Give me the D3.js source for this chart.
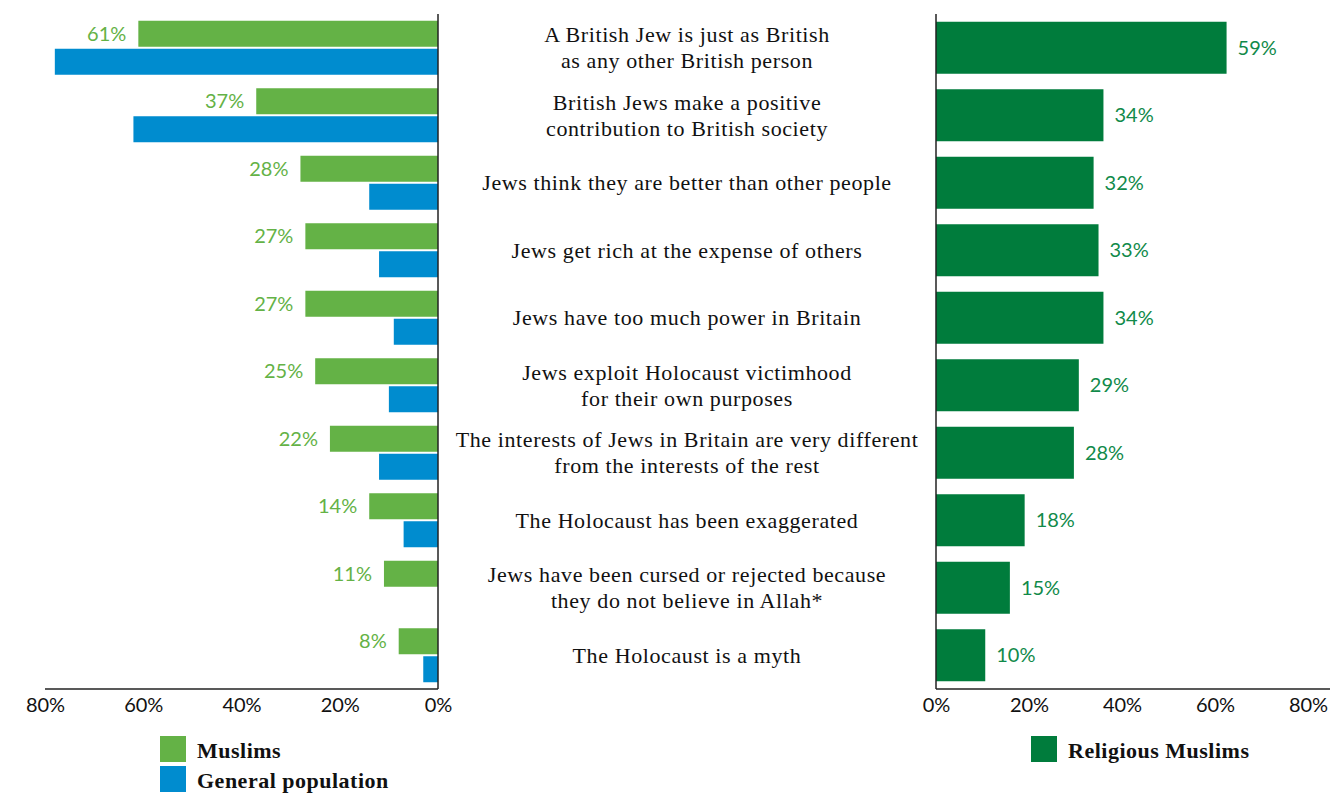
<!DOCTYPE html>
<html>
<head>
<meta charset="utf-8">
<script src="https://cdn.jsdelivr.net/npm/d3@7"></script>
<style>
  body { margin: 0; background: #fff; }
  svg { display: block; }
</style>
</head>
<body>
<div id="chart"></div>
<script>
const categories = [
    "A British Jew is just as British\nas any other British person",
    "British Jews make a positive\ncontribution to British society",
    "Jews think they are better than other people",
    "Jews get rich at the expense of others",
    "Jews have too much power in Britain",
    "Jews exploit Holocaust victimhood\nfor their own purposes",
    "The interests of Jews in Britain are very different\nfrom the interests of the rest",
    "The Holocaust has been exaggerated",
    "Jews have been cursed or rejected because\nthey do not believe in Allah*",
    "The Holocaust is a myth"
];
const muslims = [61, 37, 28, 27, 27, 25, 22, 14, 11, 8];
const generalPop = [78, 62, 14, 12, 9, 10, 12, 7, 0, 3];
const religiousMuslims = [59, 34, 32, 33, 34, 29, 28, 18, 15, 10];
const tickValues = [0, 20, 40, 60, 80];

const width = 1335, height = 794;
const sans = "Lato, 'Open Sans', sans-serif";
const serif = "'Liberation Serif', 'DejaVu Serif', serif";
const green = "#64b246", blue = "#008ccf", darkGreen = "#007c3c";

const svg = d3.select("#chart").append("svg")
    .attr("width", width)
    .attr("height", height);

const plotTop = 14, plotBottom = 689;

const y = d3.scaleBand()
    .domain(categories)
    .range([plotTop, plotBottom])
    .paddingInner(0.2)
    .paddingOuter(0.1);

// left panel (reversed axis)
const xLeft = d3.scaleLinear().domain([0, 80]).range([438, 45]);
// right panel: bars and tick labels are spaced a bit differently in the source
const xRight = d3.scaleLinear().domain([0, 80]).range([936, 1330]);
const xRightTicks = d3.scaleLinear().domain([0, 80]).range([936, 1308]);

const half = y.bandwidth() / 2;

// Muslims bars
svg.append("g")
    .selectAll("rect")
    .data(categories)
    .enter().append("rect")
    .attr("x", (d, i) => xLeft(muslims[i]))
    .attr("y", d => y(d))
    .attr("width", (d, i) => xLeft(0) - xLeft(muslims[i]))
    .attr("height", half - 1)
    .attr("fill", green);

// General population bars
svg.append("g")
    .selectAll("rect")
    .data(categories)
    .enter().append("rect")
    .attr("x", (d, i) => xLeft(generalPop[i]))
    .attr("y", d => y(d) + half + 1)
    .attr("width", (d, i) => xLeft(0) - xLeft(generalPop[i]))
    .attr("height", half - 1)
    .attr("fill", blue);

// Muslims labels
svg.append("g")
    .selectAll("text")
    .data(categories)
    .enter().append("text")
    .attr("x", (d, i) => xLeft(muslims[i]) - 12)
    .attr("y", d => y(d) + (half - 1) / 2)
    .attr("dy", "0.36em")
    .attr("text-anchor", "end")
    .style("font-family", sans)
    .style("font-size", "20px")
    .style("fill", green)
    .text((d, i) => muslims[i] + "%");

// Religious Muslims bars
svg.append("g")
    .selectAll("rect")
    .data(categories)
    .enter().append("rect")
    .attr("x", xRight(0))
    .attr("y", d => y(d) + 1)
    .attr("width", (d, i) => xRight(religiousMuslims[i]) - xRight(0))
    .attr("height", y.bandwidth() - 2)
    .attr("fill", darkGreen);

svg.append("g")
    .selectAll("text")
    .data(categories)
    .enter().append("text")
    .attr("x", (d, i) => xRight(religiousMuslims[i]) + 11)
    .attr("y", d => y(d) + half)
    .attr("dy", "0.36em")
    .style("font-family", sans)
    .style("font-size", "20px")
    .style("fill", "#118a4a")
    .text((d, i) => religiousMuslims[i] + "%");

// category labels in the middle
const labels = svg.append("g")
    .selectAll("text")
    .data(categories)
    .enter().append("text")
    .attr("text-anchor", "middle")
    .style("font-family", serif)
    .style("font-size", "22px")
    .style("letter-spacing", "0.6px")
    .style("fill", "#111");

labels.each(function(d) {
    const lines = d.split("\n");
    const lineH = 26;
    const cy = y(d) + half - (lines.length - 1) * lineH / 2;
    d3.select(this).selectAll("tspan")
        .data(lines)
        .enter().append("tspan")
        .attr("x", 687)
        .attr("y", (l, j) => cy + j * lineH)
        .attr("dy", "0.33em")
        .text(l => l);
});

// axes
function styleAxis(g) {
    g.select(".domain").remove();
    g.selectAll(".tick line").remove();
    g.selectAll(".tick text")
        .style("font-family", sans)
        .style("font-size", "20px")
        .style("fill", "#111");
}

svg.append("g")
    .attr("transform", `translate(0,${plotBottom})`)
    .call(d3.axisBottom(xLeft).tickValues(tickValues).tickFormat(d => d + "%").tickSize(0).tickPadding(9))
    .call(styleAxis);

svg.append("g")
    .attr("transform", `translate(0,${plotBottom})`)
    .call(d3.axisBottom(xRightTicks).tickValues(tickValues).tickFormat(d => d + "%").tickSize(0).tickPadding(9))
    .call(styleAxis);

// axis lines
const axisLines = svg.append("g").attr("stroke", "#222").attr("stroke-width", 1.5);
axisLines.append("line").attr("x1", xLeft(0)).attr("x2", xLeft(0)).attr("y1", plotTop).attr("y2", plotBottom);
axisLines.append("line").attr("x1", xLeft(80)).attr("x2", xLeft(0)).attr("y1", plotBottom).attr("y2", plotBottom);
axisLines.append("line").attr("x1", xRight(0)).attr("x2", xRight(0)).attr("y1", plotTop).attr("y2", plotBottom);
axisLines.append("line").attr("x1", xRight(0)).attr("x2", xRight(80)).attr("y1", plotBottom).attr("y2", plotBottom);

// legends
const legendLeft = [
    { label: "Muslims", color: green },
    { label: "General population", color: blue }
];
const legendRight = [{ label: "Religious Muslims", color: darkGreen }];

function drawLegend(items, x0, y0) {
    const g = svg.append("g").attr("transform", `translate(${x0},${y0})`);
    const item = g.selectAll("g")
        .data(items)
        .enter().append("g")
        .attr("transform", (d, i) => `translate(0,${i * 30})`);
    item.append("rect")
        .attr("width", 26)
        .attr("height", 26)
        .attr("fill", d => d.color);
    item.append("text")
        .attr("x", 37)
        .attr("y", 14)
        .attr("dy", "0.36em")
        .style("font-family", serif)
        .style("font-weight", "bold")
        .style("font-size", "22px")
        .style("letter-spacing", "0.5px")
        .style("fill", "#111")
        .text(d => d.label);
}

drawLegend(legendLeft, 160, 736);
drawLegend(legendRight, 1031, 736);
</script>
</body>
</html>
